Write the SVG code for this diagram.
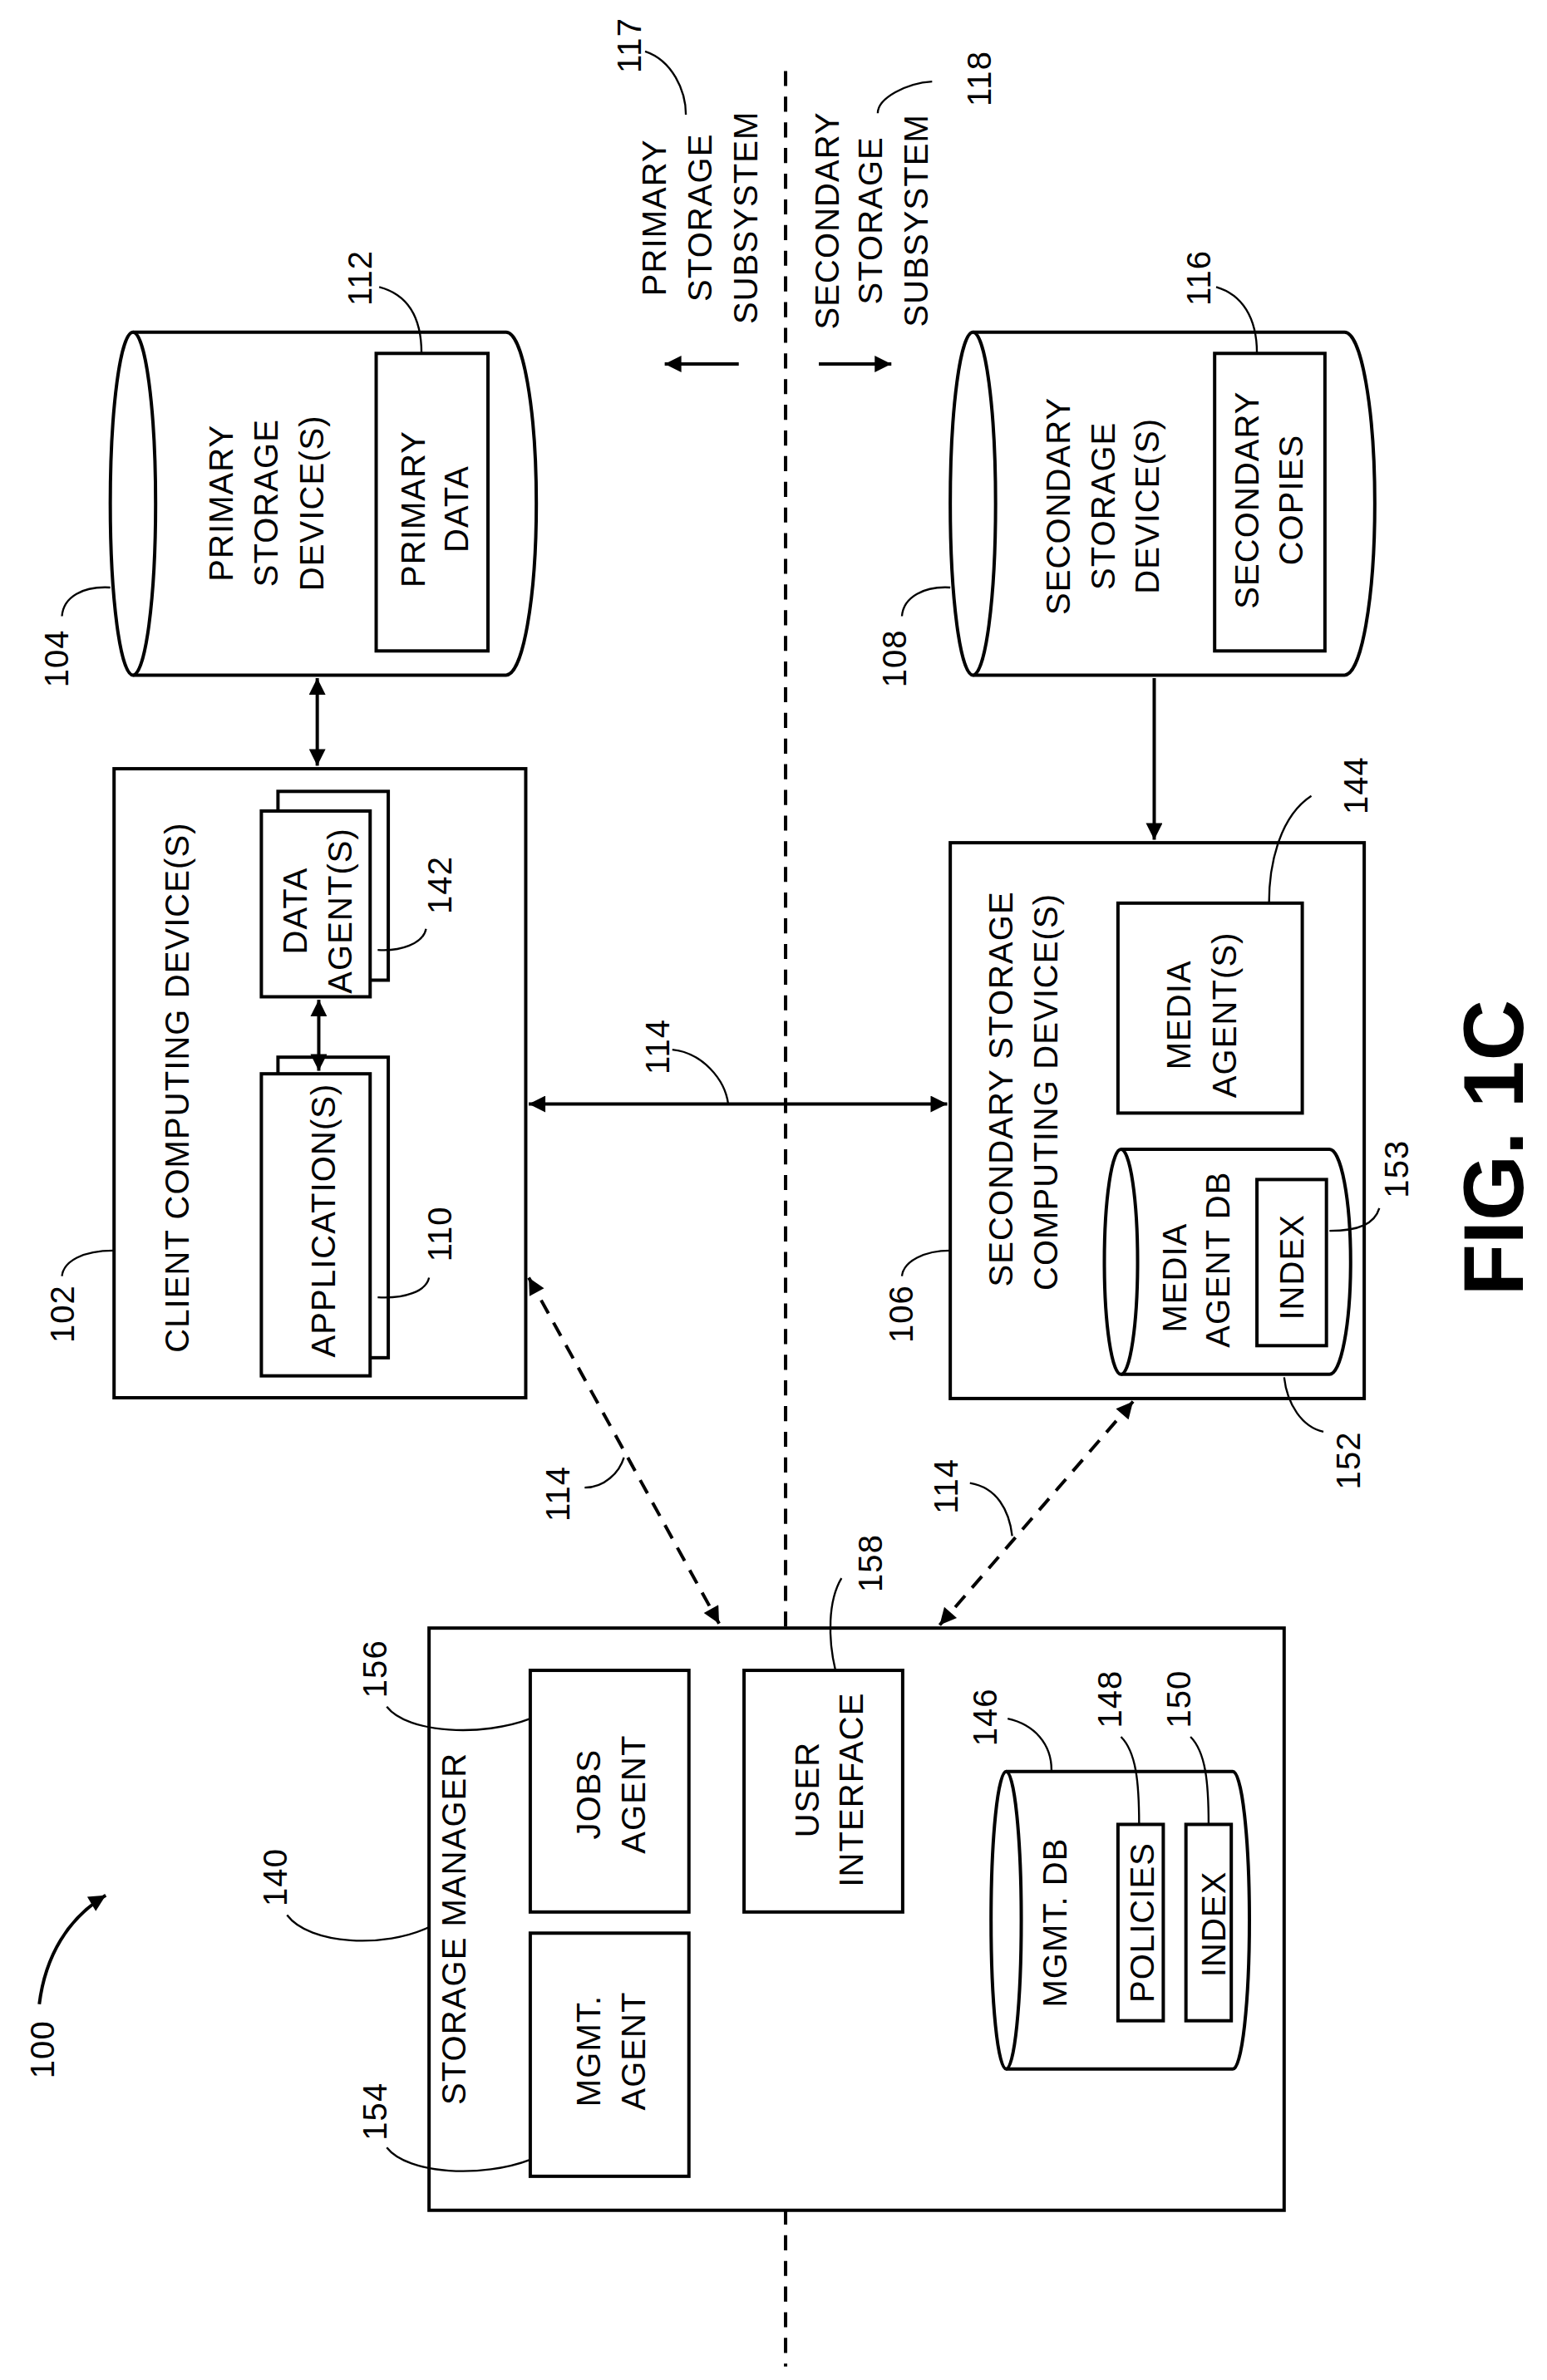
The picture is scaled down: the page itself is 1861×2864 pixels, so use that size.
<svg xmlns="http://www.w3.org/2000/svg" width="1861" height="2864" viewBox="0 0 1861 2864">
<style>
.s{fill:none;stroke:#000;stroke-width:2.2}
.w{fill:#fff;stroke:#000;stroke-width:2.2}
.l{fill:none;stroke:#000;stroke-width:1.3}
.d{fill:none;stroke:#000;stroke-width:2.2;stroke-dasharray:10 7}
text{font-family:"Liberation Sans",Arial,sans-serif;font-size:22px;letter-spacing:0.6px;text-anchor:middle;fill:#000}
.f{font-size:56px;font-weight:bold;letter-spacing:0}
</style>
<defs>
<marker id="a" viewBox="0 0 10 10" refX="10" refY="5" markerWidth="13" markerHeight="11" markerUnits="userSpaceOnUse" orient="auto-start-reverse"><path d="M0,0L10,5L0,10z" fill="#000"/></marker>
</defs>
<rect width="1861" height="2864" fill="#fff"/>
<g transform="scale(1.8174)">
<g id="divider"><path class="d" d="M520,47V1078M520,1463V1567"/></g>
<g id="n117"><text transform="translate(424,30) rotate(-90)">117</text><path class="l" d="M427,34C445,40 454,60 454,76"/>
<text transform="translate(441,144) rotate(-90)">PRIMARY</text><text transform="translate(471,144) rotate(-90)">STORAGE</text><text transform="translate(501,144) rotate(-90)">SUBSYSTEM</text></g>
<g id="n118"><text transform="translate(656,52) rotate(-90)">118</text><path class="l" d="M617,54C600,55 581,65 581,75"/>
<text transform="translate(555,146) rotate(-90)">SECONDARY</text><text transform="translate(584,146) rotate(-90)">STORAGE</text><text transform="translate(614,146) rotate(-90)">SUBSYSTEM</text></g>
<g id="n104"><path class="w" d="M88,220H335A20,113.5 0 0 1 335,447H88"/><ellipse class="w" cx="88" cy="333.5" rx="15" ry="113.5"/>
<text transform="translate(154,333) rotate(-90)">PRIMARY</text><text transform="translate(184,333) rotate(-90)">STORAGE</text><text transform="translate(214,333) rotate(-90)">DEVICE(S)</text>
<text transform="translate(45,436) rotate(-90)">104</text><path class="l" d="M41,408C42,395 55,388 73,389"/></g>
<g id="n112"><rect class="w" x="249" y="234" width="74" height="197"/><text transform="translate(281,337) rotate(-90)">PRIMARY</text><text transform="translate(310,337) rotate(-90)">DATA</text>
<text transform="translate(246,184) rotate(-90)">112</text><path class="l" d="M251,190C270,195 279,210 279,234"/></g>
<g id="n108"><path class="w" d="M644,220H890A20,113.5 0 0 1 890,447H644"/><ellipse class="w" cx="644" cy="333.5" rx="15" ry="113.5"/>
<text transform="translate(708,335) rotate(-90)">SECONDARY</text><text transform="translate(738,335) rotate(-90)">STORAGE</text><text transform="translate(767,335) rotate(-90)">DEVICE(S)</text>
<text transform="translate(600,436) rotate(-90)">108</text><path class="l" d="M597,408C598,395 612,388 629,389"/></g>
<g id="n116"><rect class="w" x="804" y="234" width="73" height="197"/><text transform="translate(833,331) rotate(-90)">SECONDARY</text><text transform="translate(862,331) rotate(-90)">COPIES</text>
<text transform="translate(801,184) rotate(-90)">116</text><path class="l" d="M805,190C822,195 832,210 832,234"/></g>
<g id="n102"><rect class="s" x="75.5" y="509" width="272.5" height="416.5"/><text transform="translate(125,720) rotate(-90)">CLIENT COMPUTING DEVICE(S)</text>
<text transform="translate(49,870) rotate(-90)">102</text><path class="l" d="M41,845C42,835 55,828 75,828"/></g>
<g id="n142"><rect class="w" x="184" y="524" width="73" height="125"/><rect class="w" x="173" y="537" width="72" height="123"/>
<text transform="translate(203,603) rotate(-90)">DATA</text><text transform="translate(233,603) rotate(-90)">AGENT(S)</text>
<text transform="translate(299,586) rotate(-90)">142</text><path class="l" d="M282,615C280,625 265,630 250,629"/></g>
<g id="n110"><rect class="w" x="184" y="700" width="73" height="199"/><rect class="w" x="173" y="711" width="72" height="200"/>
<text transform="translate(222,808) rotate(-90)">APPLICATION(S)</text>
<text transform="translate(299,817) rotate(-90)">110</text><path class="l" d="M284,846C282,855 268,860 250,859"/></g>
<g id="n106"><rect class="s" x="629" y="558" width="274" height="368"/>
<text transform="translate(670,721) rotate(-90)">SECONDARY STORAGE</text><text transform="translate(700,723) rotate(-90)">COMPUTING DEVICE(S)</text>
<text transform="translate(604,870) rotate(-90)">106</text><path class="l" d="M597,845C598,835 612,828 629,828"/></g>
<g id="n144"><rect class="w" x="740" y="598" width="122" height="139"/><text transform="translate(788,672) rotate(-90)">MEDIA</text><text transform="translate(818,672) rotate(-90)">AGENT(S)</text>
<text transform="translate(905,520) rotate(-90)">144</text><path class="l" d="M868,527C848,540 840,570 840,598"/></g>
<g id="n152"><path class="w" d="M742,761H880A14,74.5 0 0 1 880,910H742"/><ellipse class="w" cx="742" cy="835.5" rx="11" ry="74.5"/>
<text transform="translate(785,846) rotate(-90)">MEDIA</text><text transform="translate(814,834) rotate(-90)">AGENT DB</text>
<text transform="translate(900,967) rotate(-90)">152</text><path class="l" d="M850,912C852,930 862,945 876,948"/></g>
<g id="n153"><rect class="w" x="832" y="781" width="46" height="110"/><text transform="translate(863,839) rotate(-90)">INDEX</text>
<text transform="translate(932,774) rotate(-90)">153</text><path class="l" d="M913,800C910,810 900,815 880,815"/></g>
<g id="n140"><rect class="s" x="284" y="1078" width="566" height="385.5"/><text transform="translate(308,1277) rotate(-90)">STORAGE MANAGER</text>
<text transform="translate(190,1243) rotate(-90)">140</text><path class="l" d="M190,1268C205,1288 255,1290 284,1276"/></g>
<g id="n156"><rect class="w" x="351" y="1106" width="105" height="160"/><text transform="translate(397,1188) rotate(-90)">JOBS</text><text transform="translate(427,1188) rotate(-90)">AGENT</text>
<text transform="translate(256,1105) rotate(-90)">156</text><path class="l" d="M256,1130C270,1148 320,1150 351,1138"/></g>
<g id="n154"><rect class="w" x="351" y="1280" width="105" height="161"/><text transform="translate(397,1358) rotate(-90)">MGMT.</text><text transform="translate(427,1358) rotate(-90)">AGENT</text>
<text transform="translate(256,1398) rotate(-90)">154</text><path class="l" d="M256,1422C270,1440 320,1442 351,1430"/></g>
<g id="n158"><rect class="w" x="492.5" y="1106" width="105" height="160"/><text transform="translate(542,1185) rotate(-90)">USER</text><text transform="translate(571,1185) rotate(-90)">INTERFACE</text>
<text transform="translate(584,1035) rotate(-90)">158</text><path class="l" d="M557,1045C548,1060 548,1085 553,1106"/></g>
<g id="n146"><path class="w" d="M666,1173H816A11,98.5 0 0 1 816,1370H666"/><ellipse class="w" cx="666" cy="1271.5" rx="10" ry="98.5"/>
<text transform="translate(706,1273) rotate(-90)">MGMT. DB</text>
<text transform="translate(660,1137) rotate(-90)">146</text><path class="l" d="M667,1138C685,1142 696,1155 696,1172"/></g>
<g id="n148"><rect class="w" x="740" y="1208" width="30" height="130"/><text transform="translate(764,1273) rotate(-90)">POLICIES</text>
<text transform="translate(742,1125) rotate(-90)">148</text><path class="l" d="M742,1150C752,1160 754,1180 754,1208"/></g>
<g id="n150"><rect class="w" x="785" y="1208" width="30" height="130"/><text transform="translate(811,1274) rotate(-90)">INDEX</text>
<text transform="translate(788,1125) rotate(-90)">150</text><path class="l" d="M788,1150C798,1160 800,1180 800,1208"/></g>
<g id="n100"><text transform="translate(36,1357) rotate(-90)">100</text><path class="s" d="M26,1327C30,1295 45,1270 70,1255" marker-end="url(#a)"/></g>
<g id="fig"><text class="f" transform="translate(1008,760) rotate(-90)">FIG. 1C</text></g>
<g id="connectors">
<path class="s" d="M210,449V507" marker-start="url(#a)" marker-end="url(#a)"/>
<path class="s" d="M764,449V556" marker-end="url(#a)"/>
<path class="s" d="M211,662V709" marker-start="url(#a)" marker-end="url(#a)"/>
<path class="s" d="M350,731H627" marker-start="url(#a)" marker-end="url(#a)"/>
<text transform="translate(443,693) rotate(-90)">114</text><path class="l" d="M445,695C465,697 480,715 482,731"/>
<path class="d" d="M350,846L476,1075" marker-start="url(#a)" marker-end="url(#a)"/>
<text transform="translate(377,989) rotate(-90)">114</text><path class="l" d="M387,985C400,985 410,975 413,965"/>
<path class="d" d="M750,928L622,1076" marker-start="url(#a)" marker-end="url(#a)"/>
<text transform="translate(634,984) rotate(-90)">114</text><path class="l" d="M642,982C660,985 668,1000 670,1017"/>
<path class="s" d="M489,241H440" marker-end="url(#a)"/>
<path class="s" d="M542,241H590" marker-end="url(#a)"/>
</g>
</g>
</svg>
